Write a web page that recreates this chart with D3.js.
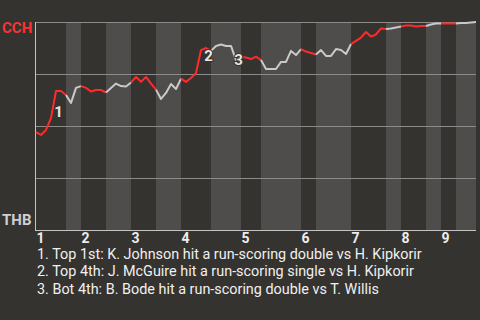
<!DOCTYPE html>
<html>
<head>
<meta charset="utf-8">
<script src="https://cdn.jsdelivr.net/npm/d3@7"></script>
<style>
  html, body { margin: 0; padding: 0; background: #35332f; }
  svg { display: block; }
  text { font-family: Roboto, "Noto Sans", sans-serif; }
</style>
</head>
<body>
<div id="chart"></div>
<script>
// plays in each half inning (top 1st, bot 1st, ... bot 9th)
const halfInningPlays = [6, 3, 5, 5, 5, 5, 6, 6, 4, 8, 3, 7, 7, 3, 5, 3, 3, 4];
const innings = ['1', '2', '3', '4', '5', '6', '7', '8', '9'];

// CCH win probability (%) after each play, starting before the first pitch
const winProb = [
    47.1,
    45.7, 48.1, 53.8, 66.8, 66.8, 64.9,
    61.1, 68.3, 69.2,
    68.3, 66.6, 67.3, 67.3, 66.1,
    68.3, 70.4, 69.2, 69.0, 70.9,
    73.6, 71.2, 73.6, 70.4, 67.5,
    63.0, 65.9, 70.2, 67.8, 72.8,
    71.2, 73.1, 75.5, 86.5, 87.5, 86.1,
    88.5, 89.2, 88.5, 88.5, 81.7, 83.2,
    82.9, 82.2, 83.4, 81.7,
    77.4, 77.4, 77.4, 80.8, 80.8, 86.1, 84.1, 87.0,
    85.8, 85.1, 84.4,
    86.5, 83.7, 83.7, 87.0, 86.5, 84.6, 89.4,
    90.9, 92.5, 95.2, 93.0, 94.0, 96.9, 96.6,
    96.9, 97.4, 97.8,
    98.3, 98.3, 97.8, 98.1, 98.1,
    98.8, 99.3, 99.3,
    99.3, 99.3, 99.3,
    99.5, 99.5, 99.8, 100
];

// key plays: index of the play that ends the jump
const keyPlays = [4, 34, 40];
const keyPlayNotes = [
    '1. Top 1st: K. Johnson hit a run-scoring double vs H. Kipkorir',
    '2. Top 4th: J. McGuire hit a run-scoring single vs H. Kipkorir',
    '3. Bot 4th: B. Bode hit a run-scoring double vs T. Willis'
];
const teams = ['CCH', 'THB'];

const width = 480, height = 320;
const margin = { top: 22, right: 4, bottom: 90, left: 36 };

const svg = d3.select('#chart')
    .append('svg')
    .attr('width', width)
    .attr('height', height);

const totalPlays = d3.sum(halfInningPlays);
const x = d3.scaleLinear()
    .domain([0, totalPlays])
    .range([margin.left, width - margin.right]);
const y = d3.scaleLinear()
    .domain([0, 100])
    .range([height - margin.bottom, margin.top]);

// half inning boundaries
let acc = 0;
const halves = halfInningPlays.map((n, i) => {
    const h = { start: acc, end: acc + n, top: i % 2 === 0, inning: Math.floor(i / 2) };
    acc += n;
    return h;
});

// background bands for bottom halves
svg.append('g')
    .selectAll('rect')
    .data(halves.filter(h => !h.top))
    .join('rect')
    .attr('x', d => x(d.start))
    .attr('width', d => x(d.end) - x(d.start))
    .attr('y', y(100))
    .attr('height', y(0) - y(100))
    .attr('fill', '#4e4d4b');

// gridlines
svg.append('g')
    .selectAll('line')
    .data([25, 50, 75, 100])
    .join('line')
    .attr('x1', x(0))
    .attr('x2', x(totalPlays))
    .attr('y1', d => y(d) + 0.5)
    .attr('y2', d => y(d) + 0.5)
    .attr('stroke', '#8c8b89')
    .attr('stroke-width', 1);

// axis lines
svg.append('line')
    .attr('x1', x(0) - 0.5).attr('x2', x(0) - 0.5)
    .attr('y1', y(100)).attr('y2', y(0) + 1)
    .attr('stroke', '#c4c4c4');
svg.append('line')
    .attr('x1', x(0) - 1).attr('x2', x(totalPlays))
    .attr('y1', y(0) + 0.5).attr('y2', y(0) + 0.5)
    .attr('stroke', '#c4c4c4');

// win probability line, one piece per half inning
const line = d3.line()
    .x(d => x(d.i))
    .y(d => y(d.v));

svg.append('g')
    .selectAll('path')
    .data(halves)
    .join('path')
    .attr('d', h => line(d3.range(h.start, h.end + 1).map(i => ({ i, v: winProb[i] }))))
    .attr('fill', 'none')
    .attr('stroke', h => h.top ? '#ff2b2b' : '#c9c9c9')
    .attr('stroke-width', 2)
    .attr('stroke-linejoin', 'round');

// key play markers
svg.append('g')
    .selectAll('text')
    .data(keyPlays)
    .join('text')
    .attr('x', i => x(i - 0.5) + 5)
    .attr('y', i => y((winProb[i - 1] + winProb[i]) / 2) + 7)
    .attr('text-anchor', 'middle')
    .attr('dominant-baseline', 'central')
    .attr('font-size', 15)
    .attr('font-weight', 'bold')
    .attr('fill', '#e6e6e6')
    .attr('stroke', '#35332f')
    .attr('stroke-width', 2)
    .attr('paint-order', 'stroke')
    .text((d, i) => i + 1);

// team labels
svg.append('text')
    .attr('x', 2)
    .attr('y', y(100) + 11)
    .attr('font-size', 15)
    .attr('font-weight', 'bold')
    .attr('fill', '#ff3030')
    .text(teams[0]);
svg.append('text')
    .attr('x', 2)
    .attr('y', y(0) - 5)
    .attr('font-size', 15)
    .attr('font-weight', 'bold')
    .attr('fill', '#cfcfcf')
    .text(teams[1]);

// inning labels
svg.append('g')
    .selectAll('text')
    .data(halves.filter(h => h.top))
    .join('text')
    .attr('x', d => x(d.start) + 0.5)
    .attr('y', y(0) + 12.5)
    .attr('font-size', 14)
    .attr('font-weight', 'bold')
    .attr('fill', '#ededed')
    .text(d => innings[d.inning]);

// key play notes
svg.append('g')
    .selectAll('text')
    .data(keyPlayNotes)
    .join('text')
    .attr('x', 37)
    .attr('y', (d, i) => y(0) + 28.5 + i * 17.5)
    .attr('font-size', 14.4)
    .attr('fill', '#f0f0f0')
    .text(d => d);
</script>
</body>
</html>
